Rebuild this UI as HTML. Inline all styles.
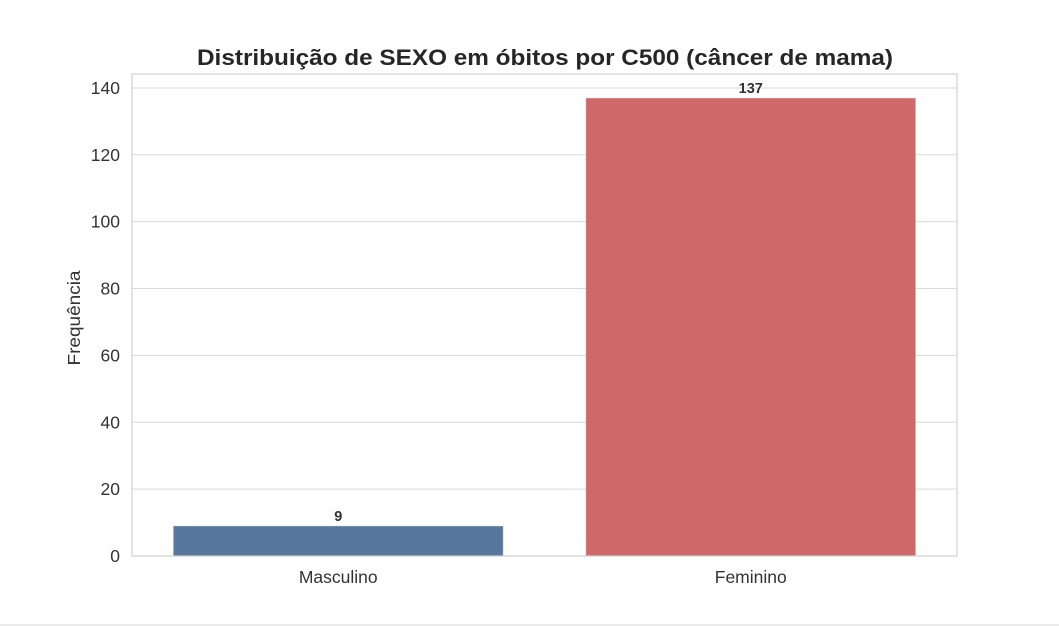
<!DOCTYPE html>
<html><head><meta charset="utf-8"><style>
html,body{margin:0;padding:0;background:#fff;}
svg{display:block;font-family:"Liberation Sans",Arial,sans-serif;}
</style></head><body>
<svg id="chart" width="1059" height="626" viewBox="0 0 1059 626">
<rect x="0" y="624" width="1059" height="2" fill="#ececec"/>
<text x="545" y="65" text-anchor="middle" font-size="22" font-weight="bold" fill="#262626" textLength="696" lengthAdjust="spacingAndGlyphs">Distribuição de SEXO em óbitos por C500 (câncer de mama)</text>
<text transform="translate(80,318) rotate(-90)" text-anchor="middle" font-size="17.5" fill="#333" textLength="95" lengthAdjust="spacingAndGlyphs">Frequência</text>
<g id="grid"></g>
<g id="bars"></g>
<rect x="132" y="74" width="825" height="482" fill="none" stroke="#d0d0d0" stroke-width="1.2"/>
</svg>
<script>
const categories = ["Masculino", "Feminino"];
const values = [9, 137];
const colors = ["#57779c", "#cf6868"];
const yTicks = [0, 20, 40, 60, 80, 100, 120, 140];

const L = 132, R = 957, T = 74, B = 556;
const yMax = 144.17;
const ns = "http://www.w3.org/2000/svg";
function y(v){ return B - v / yMax * (B - T); }
const band = (R - L) / categories.length;
function xc(i){ return L + band * (i + 0.5); }

const grid = document.getElementById('grid');
yTicks.forEach(t => {
  const ln = document.createElementNS(ns, 'line');
  ln.setAttribute('x1', L); ln.setAttribute('x2', R);
  ln.setAttribute('y1', y(t)); ln.setAttribute('y2', y(t));
  ln.setAttribute('stroke', '#d9d9d9'); ln.setAttribute('stroke-width', '1');
  
  
  grid.appendChild(ln);
  const tx = document.createElementNS(ns, 'text');
  tx.setAttribute('x', L - 12); tx.setAttribute('y', y(t) + 6);
  tx.setAttribute('text-anchor', 'end'); tx.setAttribute('font-size', '17.5'); tx.setAttribute('fill', '#333');
  tx.textContent = t;
  
  
  grid.appendChild(tx);
});

const bars = document.getElementById('bars');
categories.forEach((c, i) => {
  const w = band * 0.8;
  const r = document.createElementNS(ns, 'rect');
  r.setAttribute('x', xc(i) - w / 2); r.setAttribute('width', w);
  r.setAttribute('y', y(values[i])); r.setAttribute('height', B - y(values[i]));
  r.setAttribute('fill', colors[i]); r.setAttribute('stroke', '#ffffff'); r.setAttribute('stroke-opacity', '0.4');
  
  
  bars.appendChild(r);
  const v = document.createElementNS(ns, 'text');
  v.setAttribute('x', xc(i)); v.setAttribute('y', y(values[i]) - 5);
  v.setAttribute('text-anchor', 'middle'); v.setAttribute('font-size', '14.5'); v.setAttribute('font-weight', 'bold'); v.setAttribute('fill', '#333');
  v.textContent = values[i];
  
  
  bars.appendChild(v);
  const l = document.createElementNS(ns, 'text');
  l.setAttribute('x', xc(i)); l.setAttribute('y', B + 27);
  l.setAttribute('text-anchor', 'middle'); l.setAttribute('font-size', '17.5'); l.setAttribute('fill', '#333');
  l.textContent = c;
  
  
  bars.appendChild(l);
});
</script>
</body></html>
